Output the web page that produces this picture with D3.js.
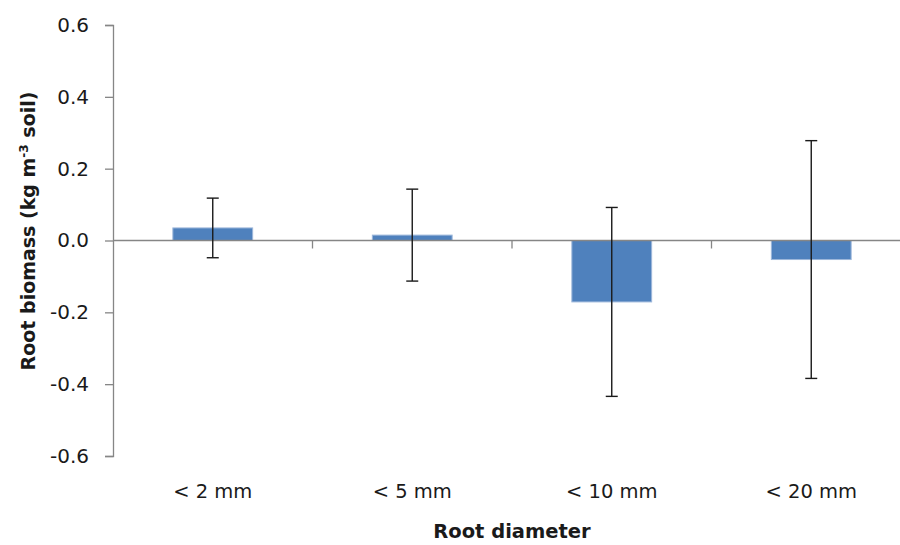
<!DOCTYPE html>
<html>
<head>
<meta charset="utf-8">
<script src="https://cdn.jsdelivr.net/npm/d3@7"></script>
<style>
  body { margin: 0; background: #fff; }
  text { font-family: "DejaVu Sans", sans-serif; fill: #1a1a1a; }
</style>
</head>
<body>
<div id="chart"></div>
<script>
// Data
const categories = ["< 2 mm", "< 5 mm", "< 10 mm", "< 20 mm"];
const means = [0.035, 0.015, -0.171, -0.053];
const errors = [0.083, 0.128, 0.263, 0.331];
const yTicks = [-0.6, -0.4, -0.2, 0.0, 0.2, 0.4, 0.6];

const data = categories.map((c, i) => ({cat: c, mean: means[i], err: errors[i]}));

const width = 900, height = 545;

const svg = d3.select("#chart")
    .append("svg")
    .attr("width", width)
    .attr("height", height);

// Scales
const x = d3.scaleBand()
    .domain(categories)
    .range([113, 911])
    .paddingInner(0.6)
    .paddingOuter(0.3);

const y = d3.scaleLinear()
    .domain([-0.6, 0.6])
    .range([456, 25]);

const axisColor = "#868686";

// Y axis (plain hyphen for negatives, like the original)
const yAxis = svg.append("g")
    .attr("transform", "translate(113,0)")
    .call(d3.axisLeft(y)
        .tickValues(yTicks)
        .tickSize(8)
        .tickPadding(16)
        .tickFormat(d => d.toFixed(1)));
yAxis.select(".domain").attr("stroke", axisColor).attr("stroke-width", 1.3);
yAxis.selectAll(".tick line").attr("stroke", axisColor).attr("stroke-width", 1.3);
yAxis.selectAll(".tick text")
    .style("font-family", "DejaVu Sans, sans-serif")
    .style("font-size", "20px")
    .attr("fill", "#1a1a1a");

// Bars
svg.selectAll("rect.bar")
    .data(data)
    .enter()
    .append("rect")
    .attr("class", "bar")
    .attr("x", d => x(d.cat))
    .attr("width", x.bandwidth())
    .attr("y", d => y(Math.max(0, d.mean)))
    .attr("height", d => Math.abs(y(d.mean) - y(0)))
    .attr("fill", "#4f81bd")
    .attr("stroke", "#9db7da")
    .attr("stroke-width", 1);

// Zero line (category axis) with tick marks between categories
svg.append("line")
    .attr("x1", 113).attr("x2", 900)
    .attr("y1", y(0)).attr("y2", y(0))
    .attr("stroke", axisColor)
    .attr("stroke-width", 1.3);

const step = x.step();
svg.selectAll("line.cattick")
    .data(categories.slice(1))
    .enter()
    .append("line")
    .attr("class", "cattick")
    .attr("x1", d => x(d) - step * 0.3)
    .attr("x2", d => x(d) - step * 0.3)
    .attr("y1", y(0))
    .attr("y2", y(0) + 8)
    .attr("stroke", axisColor)
    .attr("stroke-width", 1.3);

// Error bars
const eb = svg.selectAll("g.err")
    .data(data)
    .enter()
    .append("g")
    .attr("class", "err")
    .attr("stroke", "#1a1a1a")
    .attr("stroke-width", 1.4);

eb.append("line")
    .attr("x1", d => x(d.cat) + x.bandwidth() / 2)
    .attr("x2", d => x(d.cat) + x.bandwidth() / 2)
    .attr("y1", d => y(d.mean + d.err))
    .attr("y2", d => y(d.mean - d.err));
eb.append("line")
    .attr("x1", d => x(d.cat) + x.bandwidth() / 2 - 6)
    .attr("x2", d => x(d.cat) + x.bandwidth() / 2 + 6)
    .attr("y1", d => y(d.mean + d.err))
    .attr("y2", d => y(d.mean + d.err));
eb.append("line")
    .attr("x1", d => x(d.cat) + x.bandwidth() / 2 - 6)
    .attr("x2", d => x(d.cat) + x.bandwidth() / 2 + 6)
    .attr("y1", d => y(d.mean - d.err))
    .attr("y2", d => y(d.mean - d.err));

// Category labels at the bottom
svg.selectAll("text.cat")
    .data(categories)
    .enter()
    .append("text")
    .attr("class", "cat")
    .attr("x", d => x(d) + x.bandwidth() / 2)
    .attr("y", 498)
    .attr("text-anchor", "middle")
    .style("font-size", "19.5px")
    .text(d => d);

// Axis titles
svg.append("text")
    .attr("x", 512)
    .attr("y", 538)
    .attr("text-anchor", "middle")
    .style("font-size", "19.5px")
    .style("font-weight", "bold")
    .text("Root diameter");

const yTitle = svg.append("text")
    .attr("transform", "translate(35,231) rotate(-90)")
    .attr("text-anchor", "middle")
    .style("font-size", "19px")
    .style("font-weight", "bold");
yTitle.append("tspan").text("Root biomass (kg m");
yTitle.append("tspan").attr("dy", -7).style("font-size", "12px").text("-3");
yTitle.append("tspan").attr("dy", 7).text(" soil)");
</script>
</body>
</html>
